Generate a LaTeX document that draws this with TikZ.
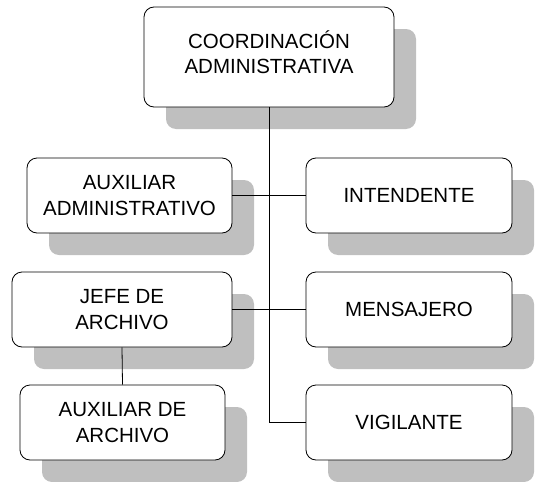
\documentclass[tikz,border=0pt]{standalone}
\usepackage{fontspec}
\setmainfont{Liberation Sans}
\usetikzlibrary{shadows}

\tikzset{
  orgbox/.style={draw, line width=0.8pt, fill=white, rounded corners=10pt,
    align=center, inner sep=2pt, font=\fontsize{20.5}{25.5}\selectfont,
    general shadow={fill=gray!50, shadow xshift=22pt, shadow yshift=-22pt}},
  orgline/.style={line width=0.8pt}
}

\begin{document}
\begin{tikzpicture}[x=1pt, y=-1pt]
  \useasboundingbox (0,0) rectangle (539,482);

  % Top
  \node[orgbox, minimum width=250pt, minimum height=100pt] (coord) at (269,57) {COORDINACIÓN\\ADMINISTRATIVA\\[-16pt]};

  % Left column
  \node[orgbox, minimum width=205pt, minimum height=75pt] (auxadm) at (129.5,195.5) {AUXILIAR\\ADMINISTRATIVO};
  \node[orgbox, minimum width=220pt, minimum height=75pt] (jefe) at (122,309.5) {JEFE DE\\ARCHIVO};
  \node[orgbox, minimum width=205pt, minimum height=75pt] (auxarch) at (122.5,422.5) {AUXILIAR DE\\ARCHIVO};

  % Right column
  \node[orgbox, minimum width=206pt, minimum height=75pt] (intend) at (409,195.5) {INTENDENTE};
  \node[orgbox, minimum width=206pt, minimum height=75pt] (mensaj) at (409,309.5) {MENSAJERO};
  \node[orgbox, minimum width=206pt, minimum height=75pt] (vigil) at (409,422.5) {VIGILANTE};

  % Connectors
  \draw[orgline] (coord.south) |- (vigil.west);
  \draw[orgline] (auxadm.east) -- (intend.west);
  \draw[orgline] (jefe.east) -- (mensaj.west);
  \draw[orgline] (jefe.south) -- (auxarch.north);
\end{tikzpicture}
\end{document}
